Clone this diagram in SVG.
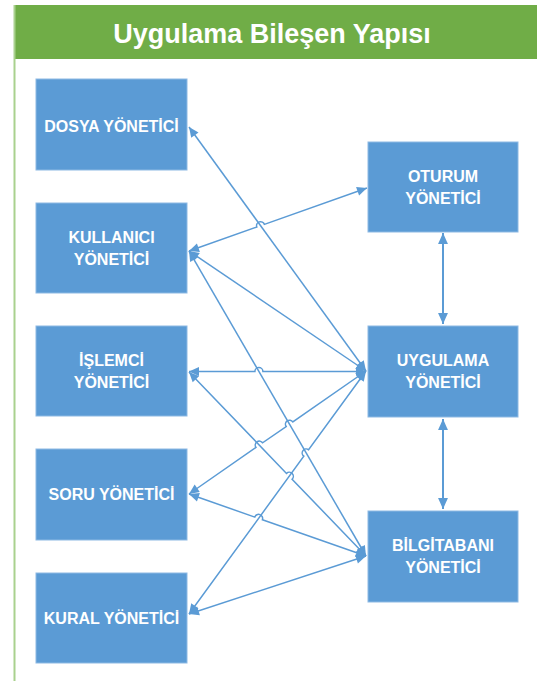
<svg xmlns="http://www.w3.org/2000/svg" width="537" height="681" viewBox="0 0 537 681">
<style>
.box{fill:#5B9BD5;stroke:#8DB9E3;stroke-width:1}
.lbl{font-family:"Liberation Sans",Arial,sans-serif;font-weight:bold;font-size:16px;fill:#FFFFFF;text-anchor:middle}
.con{fill:none;stroke:#5B9BD5;stroke-width:1.5;marker-start:url(#ah);marker-end:url(#ah)}
.vcon{fill:none;stroke:#5B9BD5;stroke-width:2;marker-start:url(#ah2);marker-end:url(#ah2)}
</style>
<defs>
<marker id="ah" viewBox="0 0 10 10" refX="10" refY="5" markerWidth="11" markerHeight="10" markerUnits="userSpaceOnUse" orient="auto-start-reverse">
<path d="M0,0.5 L10,5 L0,9.5 z" fill="#5B9BD5"/>
</marker>
<marker id="ah2" viewBox="0 0 10 10" refX="10" refY="5" markerWidth="11" markerHeight="11" markerUnits="userSpaceOnUse" orient="auto-start-reverse">
<path d="M0,0.5 L10,5 L0,9.5 z" fill="#5B9BD5"/>
</marker>
</defs>
<rect width="537" height="681" fill="#FFFFFF"/>
<g id="title">
<rect x="14" y="5" width="523" height="54" fill="#70AD47"/>
<line x1="14.5" y1="5" x2="14.5" y2="681" stroke="#A9D18E" stroke-width="2"/>
<text x="272" y="43" font-family="'Liberation Sans',Arial,sans-serif" font-weight="bold" font-size="27" fill="#FFFFFF" text-anchor="middle">Uygulama Bileşen Yapısı</text>
</g>
<g id="connectors">
<path class="con" d="M189,127 L366,371"/>
<path class="con" d="M189,251 L256.8,227.0 A4,4 0 0 1 264.4,224.4 L367,188"/>
<path class="con" d="M189,251 L366,371"/>
<path class="con" d="M189,251 L366,556"/>
<path class="con" d="M189,371.5 L254.9,371.5 A4,4 0 0 1 262.9,371.5 L366,371.5"/>
<path class="con" d="M189,372 L286.5,473.4 A4,4 0 0 1 292.1,479.2 L366,556"/>
<path class="con" d="M189,494 L256.0,447.4 A4,4 0 0 1 262.6,442.8 L286.2,426.5 A4,4 0 0 1 292.8,421.9 L366,371"/>
<path class="con" d="M189,494 L254.8,517.1 A4,4 0 0 1 262.4,519.7 L366,556"/>
<path class="con" d="M189,614 L303.8,456.2 A4,4 0 0 1 308.6,449.8 L366,371"/>
<path class="con" d="M189,614 L366,556"/>
<path class="vcon" d="M443,233 L443,324"/>
<path class="vcon" d="M443,419 L443,509"/>
</g>
<g id="dosya">
<rect class="box" x="36" y="79" width="151" height="91"/>
<text class="lbl" x="111.5" y="132">DOSYA YÖNETİCİ</text>
</g>
<g id="kullanici">
<rect class="box" x="36" y="203" width="151" height="90"/>
<text class="lbl" x="111.5" y="243">KULLANICI</text>
<text class="lbl" x="111.5" y="265">YÖNETİCİ</text>
</g>
<g id="islemci">
<rect class="box" x="36" y="326" width="151" height="90"/>
<text class="lbl" x="111.5" y="366">İŞLEMCİ</text>
<text class="lbl" x="111.5" y="388">YÖNETİCİ</text>
</g>
<g id="soru">
<rect class="box" x="36" y="449" width="151" height="91"/>
<text class="lbl" x="111.5" y="500">SORU YÖNETİCİ</text>
</g>
<g id="kural">
<rect class="box" x="36" y="573" width="151" height="90"/>
<text class="lbl" x="111.5" y="624">KURAL YÖNETİCİ</text>
</g>
<g id="oturum">
<rect class="box" x="368" y="142" width="150" height="90"/>
<text class="lbl" x="443" y="181.5">OTURUM</text>
<text class="lbl" x="443" y="203.5">YÖNETİCİ</text>
</g>
<g id="uygulama">
<rect class="box" x="368" y="326" width="150" height="91"/>
<text class="lbl" x="443" y="366">UYGULAMA</text>
<text class="lbl" x="443" y="388">YÖNETİCİ</text>
</g>
<g id="bilgitabani">
<rect class="box" x="368" y="511" width="150" height="91"/>
<text class="lbl" x="443" y="551">BİLGİTABANI</text>
<text class="lbl" x="443" y="573">YÖNETİCİ</text>
</g>
</svg>
